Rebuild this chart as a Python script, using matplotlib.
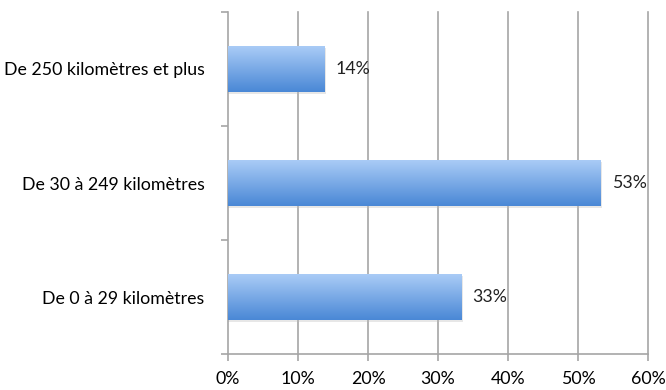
import numpy as np
import matplotlib.pyplot as plt
from matplotlib.colors import LinearSegmentedColormap
from matplotlib.patches import Rectangle

categories = ["De 0 à 29 kilomètres", "De 30 à 249 kilomètres", "De 250 kilomètres et plus"]
values = [33.3, 53.2, 13.8]
labels = ["33%", "53%", "14%"]
xticks = [0, 10, 20, 30, 40, 50, 60]

plt.rcParams['font.family'] = ['Lato', 'DejaVu Sans']
fs = 12.8

fig = plt.figure(figsize=(6.66, 3.9), dpi=100)
ax = fig.add_axes([228/666, 1-354/390, 420/666, 342/390])

grad = LinearSegmentedColormap.from_list("bar", ["#4a88d6", "#a9cbf6"])
gimg = np.linspace(0, 1, 64).reshape(-1, 1)

bar_h = 0.4
for i, v in enumerate(values):
    # soft shadow
    ax.add_patch(Rectangle((0, i - bar_h/2 - 0.02), v + 0.25, bar_h, color="#bbbbbb",
                           alpha=0.35, lw=0, zorder=2))
    ax.imshow(gimg, aspect="auto", cmap=grad, origin="lower",
              extent=(0, v, i - bar_h/2, i + bar_h/2), zorder=3)
    ax.text(v + 1.6, i, labels[i], va="center", ha="left", fontsize=fs, color="#222222")

for x in xticks[1:]:
    ax.axvline(x, color="#a6a6a6", lw=1.2, zorder=1, clip_on=False)

ax.set_xlim(0, 60)
ax.set_ylim(-0.5, 2.5)
ax.set_xticks(xticks)
ax.set_xticklabels([f"{x}%" for x in xticks], fontsize=fs)
ax.set_yticks(range(3))
ax.set_yticklabels(categories, fontsize=fs)
ax.set_yticks([-0.5, 0.5, 1.5, 2.5], minor=True)
ax.tick_params(axis="y", which="major", length=0, pad=17)
ax.tick_params(axis="y", which="minor", length=5, color="#a6a6a6", width=1.2)
ax.tick_params(axis="x", length=5, color="#a6a6a6", width=1.2, pad=7)

for s in ["top", "right"]:
    ax.spines[s].set_visible(False)
ax.spines["left"].set_color("#a6a6a6")
ax.spines["left"].set_linewidth(1.2)
ax.spines["bottom"].set_color("#a6a6a6")
ax.spines["bottom"].set_linewidth(1.2)

fig.savefig("out.png", dpi=100, facecolor="white")
